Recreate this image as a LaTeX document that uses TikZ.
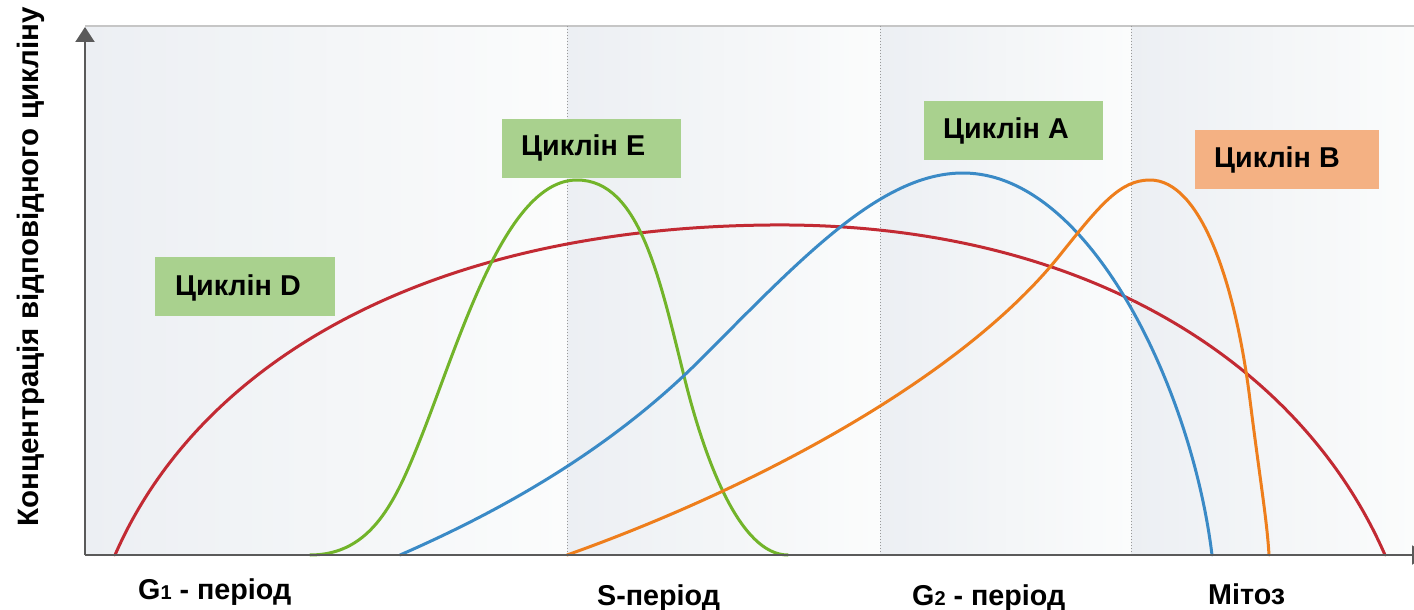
\documentclass[tikz,border=0pt]{standalone}
\usepackage{fontspec}
\setmainfont{Liberation Sans}
\usetikzlibrary{arrows.meta}
\definecolor{cred}{HTML}{C22A33}
\definecolor{cblue}{HTML}{3A8AC6}
\definecolor{cgreen}{HTML}{72B42A}
\definecolor{corange}{HTML}{EE7E1C}
\definecolor{boxgreen}{HTML}{A9D18E}
\definecolor{boxorange}{HTML}{F4B183}
\definecolor{axisgray}{HTML}{5A5A5A}
\definecolor{panelL}{HTML}{ECEFF3}
\definecolor{panelR}{HTML}{FBFCFC}
\tikzset{
  curve/.style={line width=3pt, line cap=round, line join=round},
  lblbox/.style={anchor=north west, inner sep=0pt, outer sep=0pt},
  lbl/.style={anchor=base west, inner sep=0pt, font=\fontsize{28.7}{30}\selectfont\bfseries},
  sep/.style={draw=gray!80, line width=1pt, dotted},
  axis/.style={draw=axisgray, line width=2pt, -{Triangle[width=19pt,length=15pt]}}
}
\begin{document}
\begin{tikzpicture}[x=1pt,y=-1pt]
\useasboundingbox (0,0) rectangle (1414,610);
\begin{scope}
\clip (0,0) rectangle (1414,610);
% background panels
\shade[left color=panelL, right color=panelR] (85,26) rectangle (567,555);
\shade[left color=panelL, right color=panelR] (567,26) rectangle (880,555);
\shade[left color=panelL, right color=panelR] (880,26) rectangle (1131,555);
\shade[left color=panelL, right color=panelR] (1131,26) rectangle (1414,555);
\draw[gray!45, line width=1.5pt] (85,26) -- (1414,26);
\coordinate (s1t) at (567,26); \coordinate (s1b) at (567,555);
\coordinate (s2t) at (880,26); \coordinate (s2b) at (880,555);
\coordinate (s3t) at (1131,26); \coordinate (s3b) at (1131,555);
\draw[sep] (s1t) -- (s1b);
\draw[sep] (s2t) -- (s2b);
\draw[sep] (s3t) -- (s3b);

% cyclin D
\draw[curve, cred] (115,555) .. controls (200,360) and (430,228) .. (770,225)
  .. controls (1080,222) and (1300,360) .. (1385,555);
% cyclin E
\draw[curve, cgreen] (310,555) .. controls (372,555) and (396,500) .. (420,440)
  .. controls (460,340) and (505,180) .. (577,180)
  .. controls (640,180) and (660,280) .. (685,380)
  .. controls (705,460) and (740,555) .. (788,555);
% cyclin A
\draw[curve, cblue] (400,555) .. controls (480,520) and (600,460) .. (700,360)
  .. controls (800,260) and (880,173) .. (963,173)
  .. controls (1090,173) and (1192,390) .. (1212,555);
% cyclin B
\draw[curve, corange] (567,555) .. controls (750,490) and (960,380) .. (1060,255)
  .. controls (1100,205) and (1120,180) .. (1150,180)
  .. controls (1200,180) and (1235,280) .. (1250,400)
  .. controls (1260,480) and (1267,520) .. (1269,555);

% axes
\coordinate (O) at (85,555);
\coordinate (ytop) at (85,27);
\coordinate (xend) at (1427,555);
\draw[axis] (O) -- (ytop);
\draw[axis] (O) -- (xend);
\end{scope}

% label boxes
\node[lblbox, fill=boxgreen, minimum width=179pt, minimum height=59pt] (bE) at (502,119) {};
\node[lbl] (tE) at (521,155) {Циклін E};
\node[lblbox, fill=boxgreen, minimum width=179pt, minimum height=59pt] (bA) at (924,101) {};
\node[lbl] (tA) at (943,138) {Циклін A};
\node[lblbox, fill=boxorange, minimum width=184pt, minimum height=59pt] (bB) at (1195,130) {};
\node[lbl] (tB) at (1214,167) {Циклін B};
\node[lblbox, fill=boxgreen, minimum width=180pt, minimum height=59pt] (bD) at (155,257) {};
\node[lbl] (tD) at (175,295) {Циклін D};

% axis labels
\node[lbl, anchor=base, rotate=90, font=\fontsize{29.5}{30}\selectfont\bfseries] (ylab) at (38,267) {Концентрація відповідного цикліну};
\node[lbl] (g1) at (138,599) {G{\fontsize{20}{20}\selectfont 1} - період};
\node[lbl] (sp) at (597,605) {S-період};
\node[lbl] (g2) at (912,605) {G{\fontsize{20}{20}\selectfont 2} - період};
\node[lbl] (mit) at (1208,604) {Мітоз};
\end{tikzpicture}
\end{document}
